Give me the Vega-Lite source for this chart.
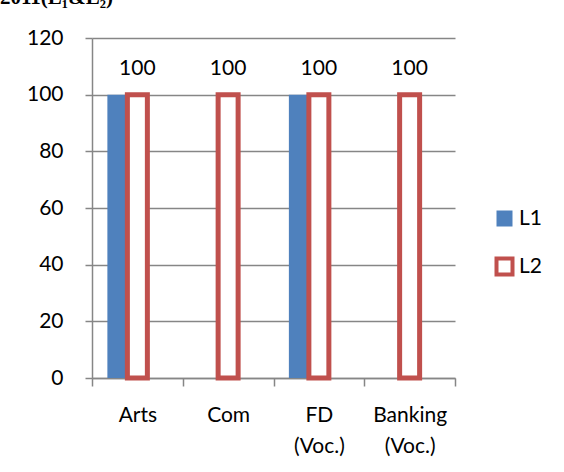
{
  "$schema": "https://vega.github.io/schema/vega-lite/v6.json",
  "width": 363,
  "height": 340,
  "autosize": "none",
  "padding": {"left": 92, "top": 38, "right": 109, "bottom": 94},
  "background": "white",
  "title": {
    "text": "2011(L₁&L₂)",
    "anchor": "start",
    "frame": "group",
    "orient": "top",
    "offset": 2,
    "dx": -92,
    "baseline": "alphabetic",
    "font": "Liberation Serif",
    "fontSize": 21,
    "fontWeight": "bold",
    "color": "black"
  },
  "data": {
    "values": [
      {"Course": "Arts", "Level": "L1", "Value": 100},
      {"Course": "Arts", "Level": "L2", "Value": 100},
      {"Course": "Com", "Level": "L2", "Value": 100},
      {"Course": "FD (Voc.)", "Level": "L1", "Value": 100},
      {"Course": "FD (Voc.)", "Level": "L2", "Value": 100},
      {"Course": "Banking (Voc.)", "Level": "L2", "Value": 100}
    ]
  },
  "encoding": {
    "x": {
      "field": "Course",
      "type": "nominal",
      "sort": ["Arts", "Com", "FD (Voc.)", "Banking (Voc.)"],
      "scale": {"paddingInner": 0, "paddingOuter": 0},
      "axis": {
        "title": null,
        "grid": false,
        "labelAngle": 0,
        "tickBand": "extent",
        "tickSize": 8,
        "labelPadding": 18,
        "labelExpr": "isValid(datum.value) ? split(datum.value, ' ') : ''",
        "labelLineHeight": 31,
        "labelFontSize": 21,
        "labelFont": "Lato",
        "labelColor": "black",
        "domainColor": "#868686",
        "tickColor": "#868686",
        "domainWidth": 1.5,
        "tickWidth": 1.5
      }
    }
  },
  "layer": [
    {
      "mark": {"type": "bar", "strokeWidth": 5},
      "encoding": {
        "xOffset": {
          "field": "Level",
          "type": "nominal",
          "scale": {"domain": ["L1", "L2", "L3"], "paddingInner": 0, "paddingOuter": 0.769}
        },
        "y": {
          "field": "Value",
          "type": "quantitative",
          "scale": {"domain": [0, 120]},
          "axis": {
            "title": null,
            "values": [0, 20, 40, 60, 80, 100, 120],
            "tickSize": 7,
            "labelPadding": 22,
            "labelFontSize": 21,
            "labelFont": "Lato",
            "labelColor": "black",
            "domainColor": "#868686",
            "tickColor": "#868686",
            "gridColor": "#868686",
            "domainWidth": 1.5,
            "tickWidth": 1.5,
            "gridWidth": 1.5
          }
        },
        "fill": {
          "field": "Level",
          "type": "nominal",
          "scale": {"domain": ["L1", "L2"], "range": ["#4F81BD", "#FFFFFF"]},
          "legend": {
            "title": null,
            "orient": "none",
            "legendX": 402,
            "legendY": 170,
            "symbolType": "square",
            "symbolSize": 256,
            "symbolStrokeWidth": 4,
            "symbolOpacity": 1,
            "labelFontSize": 21,
            "labelFont": "Lato",
            "labelColor": "black",
            "labelOffset": 4,
            "rowPadding": 15
          }
        },
        "stroke": {
          "field": "Level",
          "type": "nominal",
          "scale": {"domain": ["L1", "L2"], "range": ["transparent", "#C0504D"]},
          "legend": {
            "title": null,
            "orient": "none",
            "legendX": 402,
            "legendY": 170,
            "symbolType": "square",
            "symbolSize": 256,
            "symbolStrokeWidth": 4,
            "labelFontSize": 21,
            "labelFont": "Lato",
            "labelColor": "black",
            "labelOffset": 4,
            "rowPadding": 15
          }
        }
      }
    },
    {
      "transform": [{"filter": "datum.Level == 'L2'"}],
      "mark": {"type": "text", "dy": -26, "fontSize": 21, "font": "Lato", "color": "black", "baseline": "middle"},
      "encoding": {
        "y": {"field": "Value", "type": "quantitative"},
        "text": {"field": "Value", "type": "quantitative"}
      }
    }
  ],
  "config": {
    "view": {"stroke": null}
  }
}
